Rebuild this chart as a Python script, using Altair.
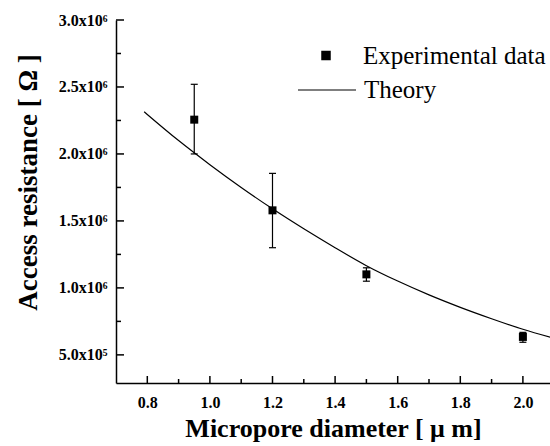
import altair as alt
import pandas as pd

# ---- data ----
diam = [0.95, 1.2, 1.5, 2.0]
resist = [2.256e6, 1.579e6, 1.101e6, 0.634e6]
err_hi = [2.52e6, 1.855e6, 1.15e6, 0.668e6]
err_lo = [2.0e6, 1.30e6, 1.05e6, 0.594e6]

theory_x = [0.79, 0.8, 0.9, 1.0, 1.1, 1.2, 1.3, 1.4, 1.5, 1.6, 1.7, 1.8, 1.9, 2.0, 2.09]
theory_y = [2.315e6, 2.295e6, 2.10e6, 1.92e6, 1.75e6, 1.59e6, 1.441e6, 1.30e6, 1.166e6,
            1.051e6, 0.948e6, 0.855e6, 0.770e6, 0.691e6, 0.630e6]

x_major = [0.8, 1.0, 1.2, 1.4, 1.6, 1.8, 2.0]
x_minor = [0.9, 1.1, 1.3, 1.5, 1.7, 1.9]
y_major = [5e5, 1e6, 1.5e6, 2e6, 2.5e6, 3e6]
y_minor = [0.75e6, 1.25e6, 1.75e6, 2.25e6, 2.75e6]
series = ["Experimental data", "Theory"]

exp_df = pd.DataFrame({"d": diam, "r": resist, "hi": err_hi, "lo": err_lo,
                       "series": [series[0]] * len(diam)})
th_df = pd.DataFrame({"d": theory_x, "r": theory_y, "series": [series[1]] * len(theory_x)})

FONT = "Liberation Serif"
W, H = 434, 363
xs = alt.Scale(domain=[0.7, 2.0866], nice=False, zero=False)
ys = alt.Scale(domain=[0.29e6, 3.0e6], nice=False, zero=False)

main_x = alt.Axis(orient="bottom", values=x_major, format=".1f", ticks=False, tickSize=0,
                  labelFont=FONT, labelFontWeight="bold", labelFontSize=16, labelColor="black",
                  labelPadding=11, domainColor="black", domainWidth=1.5, grid=False,
                  title="Micropore diameter [ μ m]", titleFont=FONT, titleFontSize=26,
                  titleFontWeight="bold", titleColor="black", titleY=53,
                  titleBaseline="alphabetic")
main_y = alt.Axis(orient="left", values=y_major, ticks=False, tickSize=0,
                  labelExpr="datum.value < 1e6 ? format(datum.value/1e5, '.1f') + 'x10⁵' : format(datum.value/1e6, '.1f') + 'x10⁶'",
                  labelFont=FONT, labelFontWeight="bold", labelFontSize=16, labelColor="black",
                  labelPadding=9, labelBaseline="middle", domainColor="black", domainWidth=1.5,
                  grid=False, title="Access resistance [ Ω ]", titleFont=FONT, titleFontSize=27,
                  titleFontWeight="bold", titleColor="black", titleAngle=-90, titleX=-80,
                  titleY=162, titleAlign="center", titleBaseline="alphabetic")

bars = alt.Chart(exp_df).mark_rule(color="black", strokeWidth=1.2).encode(
    x=alt.X("d:Q", scale=xs, axis=main_x),
    y=alt.Y("lo:Q", scale=ys, axis=main_y),
    y2="hi:Q",
)
cap_hi = alt.Chart(exp_df).mark_tick(color="black", orient="horizontal", size=7,
                                     thickness=1.2, opacity=1).encode(
    x=alt.X("d:Q", scale=xs, axis=None),
    y=alt.Y("hi:Q", scale=ys, axis=None),
)
cap_lo = alt.Chart(exp_df).mark_tick(color="black", orient="horizontal", size=7,
                                     thickness=1.2, opacity=1).encode(
    x=alt.X("d:Q", scale=xs, axis=None),
    y=alt.Y("lo:Q", scale=ys, axis=None),
)

leg_pts = alt.Legend(orient="none", legendX=197.5, legendY=23, padding=0, title=None,
                     labelFont=FONT, labelFontSize=25, labelColor="black", labelOffset=24.5,
                     symbolType="square", symbolSize=64, symbolFillColor="black",
                     symbolStrokeColor="black", symbolOpacity=1, labelLimit=400)
leg_line = alt.Legend(orient="none", legendX=181, legendY=40, padding=0, title=None,
                      labelFont=FONT, labelFontSize=25, labelColor="black", labelOffset=7,
                      symbolType="stroke", symbolSize=3364, symbolStrokeColor="black",
                      symbolStrokeWidth=1.2, symbolOpacity=1, labelLimit=400)

points = alt.Chart(exp_df).mark_square(size=64, opacity=1, filled=True).encode(
    x=alt.X("d:Q", scale=xs, axis=None),
    y=alt.Y("r:Q", scale=ys, axis=None),
    color=alt.Color("series:N", scale=alt.Scale(domain=[series[0]], range=["black"]),
                    legend=leg_pts),
)

line = alt.Chart(th_df).mark_line(strokeWidth=1.2, interpolate="monotone", clip=True).encode(
    x=alt.X("d:Q", scale=xs, axis=None),
    y=alt.Y("r:Q", scale=ys, axis=None),
    color=alt.Color("series:N", scale=alt.Scale(domain=[series[1]], range=["black"]),
                    legend=leg_line),
)


# inward tick marks, placed through the axis scales
def xticks(vals, length):
    return alt.Chart(pd.DataFrame({"v": vals})).mark_rule(color="black", strokeWidth=1.5).encode(
        x=alt.X("v:Q", scale=xs, axis=None),
        y=alt.value(H), y2=alt.value(H - length),
    )


def yticks(vals, length):
    return alt.Chart(pd.DataFrame({"v": vals})).mark_rule(color="black", strokeWidth=1.5).encode(
        y=alt.Y("v:Q", scale=ys, axis=None),
        x=alt.value(0), x2=alt.value(length),
    )


chart = alt.layer(
    bars, cap_hi, cap_lo, line, points,
    xticks(x_major, 7), xticks(x_minor, 4), yticks(y_major, 8), yticks(y_minor, 5),
).resolve_scale(color="independent").resolve_axis(x="independent", y="independent").properties(
    width=W, height=H,
    padding={"left": 116, "top": 20, "right": 0, "bottom": 63},
    autosize=alt.AutoSizeParams(type="none"),
    background="white",
).configure_view(stroke=None)

chart.save("out.html", embed_options={"renderer": "svg", "actions": False})
